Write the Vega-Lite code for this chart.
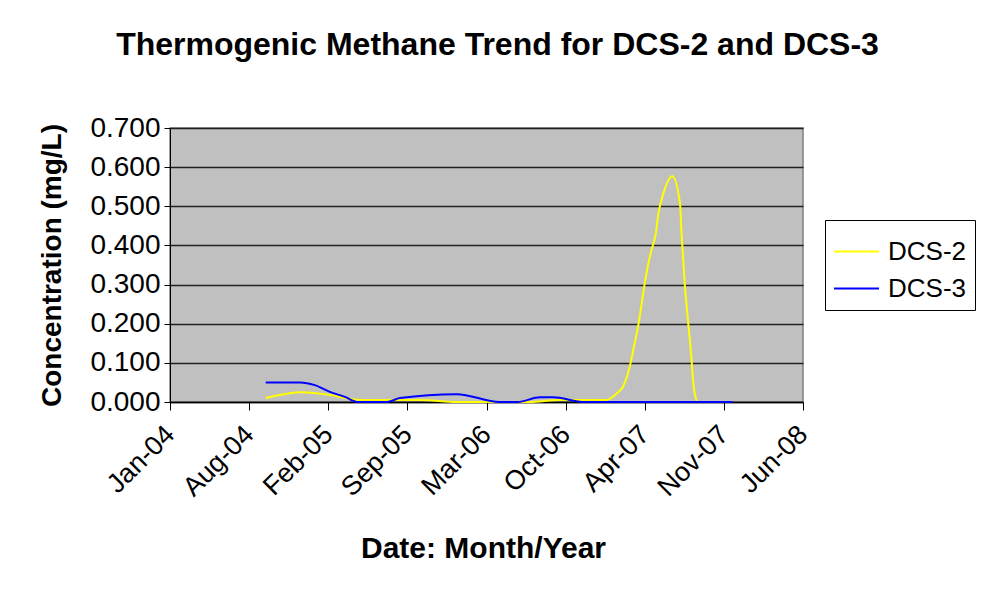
{
  "$schema": "https://vega.github.io/schema/vega-lite/v6.json",
  "autosize": "none",
  "width": 633,
  "height": 274,
  "padding": {"left": 170, "top": 128, "right": 184, "bottom": 190},
  "background": "white",
  "title": {
    "text": "Thermogenic Methane Trend for DCS-2 and DCS-3",
    "anchor": "middle",
    "dx": 11,
    "offset": 52,
    "font": "Liberation Sans",
    "fontSize": 32,
    "fontWeight": "bold",
    "color": "black"
  },
  "data": {
    "values": [
      {"date": "2004-09-13", "series": "DCS-2", "value": 0.010},
      {"date": "2004-12-13", "series": "DCS-2", "value": 0.025},
      {"date": "2005-02-22", "series": "DCS-2", "value": 0.018},
      {"date": "2005-05-09", "series": "DCS-2", "value": 0.005},
      {"date": "2005-10-08", "series": "DCS-2", "value": 0.005},
      {"date": "2006-01-09", "series": "DCS-2", "value": 0.000},
      {"date": "2006-07-12", "series": "DCS-2", "value": 0.000},
      {"date": "2006-09-26", "series": "DCS-2", "value": 0.005},
      {"date": "2007-01-21", "series": "DCS-2", "value": 0.005},
      {"date": "2007-02-17", "series": "DCS-2", "value": 0.022},
      {"date": "2007-03-05", "series": "DCS-2", "value": 0.039},
      {"date": "2007-03-22", "series": "DCS-2", "value": 0.090},
      {"date": "2007-03-31", "series": "DCS-2", "value": 0.133},
      {"date": "2007-04-12", "series": "DCS-2", "value": 0.192},
      {"date": "2007-04-29", "series": "DCS-2", "value": 0.303},
      {"date": "2007-05-08", "series": "DCS-2", "value": 0.354},
      {"date": "2007-05-16", "series": "DCS-2", "value": 0.388},
      {"date": "2007-05-27", "series": "DCS-2", "value": 0.431},
      {"date": "2007-06-02", "series": "DCS-2", "value": 0.478},
      {"date": "2007-06-15", "series": "DCS-2", "value": 0.533},
      {"date": "2007-07-08", "series": "DCS-2", "value": 0.577},
      {"date": "2007-07-27", "series": "DCS-2", "value": 0.508},
      {"date": "2007-07-31", "series": "DCS-2", "value": 0.431},
      {"date": "2007-08-08", "series": "DCS-2", "value": 0.303},
      {"date": "2007-08-17", "series": "DCS-2", "value": 0.201},
      {"date": "2007-08-26", "series": "DCS-2", "value": 0.099},
      {"date": "2007-08-29", "series": "DCS-2", "value": 0.056},
      {"date": "2007-09-08", "series": "DCS-2", "value": 0.000},
      {"date": "2004-09-13", "series": "DCS-3", "value": 0.050},
      {"date": "2004-12-09", "series": "DCS-3", "value": 0.050},
      {"date": "2005-01-15", "series": "DCS-3", "value": 0.043},
      {"date": "2005-02-22", "series": "DCS-3", "value": 0.026},
      {"date": "2005-04-01", "series": "DCS-3", "value": 0.013},
      {"date": "2005-05-04", "series": "DCS-3", "value": 0.000},
      {"date": "2005-07-16", "series": "DCS-3", "value": 0.000},
      {"date": "2005-08-18", "series": "DCS-3", "value": 0.010},
      {"date": "2006-01-09", "series": "DCS-3", "value": 0.020},
      {"date": "2006-04-27", "series": "DCS-3", "value": 0.000},
      {"date": "2006-06-12", "series": "DCS-3", "value": 0.000},
      {"date": "2006-08-07", "series": "DCS-3", "value": 0.012},
      {"date": "2006-09-09", "series": "DCS-3", "value": 0.012},
      {"date": "2006-11-28", "series": "DCS-3", "value": 0.000},
      {"date": "2007-12-07", "series": "DCS-3", "value": 0.000}
    ]
  },
  "mark": {"type": "line", "interpolate": "monotone", "strokeWidth": 2},
  "encoding": {
    "x": {
      "field": "date",
      "type": "temporal",
      "scale": {
        "type": "utc",
        "domain": [
          {"year": 2004, "month": 1, "date": 15, "utc": true},
          {"year": 2008, "month": 6, "date": 2, "utc": true}
        ],
        "nice": false
      },
      "axis": {
        "title": "Date: Month/Year",
        "values": [
          {"year": 2004, "month": 1, "date": 15, "utc": true},
          {"year": 2004, "month": 8, "date": 2, "utc": true},
          {"year": 2005, "month": 2, "date": 18, "utc": true},
          {"year": 2005, "month": 9, "date": 6, "utc": true},
          {"year": 2006, "month": 3, "date": 25, "utc": true},
          {"year": 2006, "month": 10, "date": 11, "utc": true},
          {"year": 2007, "month": 4, "date": 29, "utc": true},
          {"year": 2007, "month": 11, "date": 15, "utc": true},
          {"year": 2008, "month": 6, "date": 2, "utc": true}
        ],
        "labelExpr": "utcFormat(datum.value, '%b-%y')",
        "labelAngle": -45,
        "labelAlign": "right",
        "labelBaseline": "middle",
        "labelPadding": 20,
        "labelFont": "Liberation Sans",
        "labelFontSize": 27,
        "labelColor": "black",
        "labelOverlap": false,
        "labelFlush": false,
        "domainColor": "black",
        "domainWidth": 1.5,
        "tickColor": "black",
        "tickSize": 8,
        "grid": false,
        "titleFont": "Liberation Sans",
        "titleFontSize": 30,
        "titleFontWeight": "bold",
        "titleColor": "black",
        "titleX": 313,
        "titleY": 131,
        "titleBaseline": "top"
      }
    },
    "y": {
      "field": "value",
      "type": "quantitative",
      "scale": {"domain": [0, 0.7], "nice": false},
      "axis": {
        "title": "Concentration (mg/L)",
        "values": [0, 0.1, 0.2, 0.3, 0.4, 0.5, 0.6, 0.7],
        "format": ".3f",
        "labelFont": "Liberation Sans",
        "labelFontSize": 28,
        "labelColor": "black",
        "labelPadding": 4,
        "domainColor": "black",
        "tickColor": "black",
        "tickSize": 6,
        "grid": true,
        "gridColor": "#202020",
        "gridWidth": 1.5,
        "titleFont": "Liberation Sans",
        "titleFontSize": 28,
        "titleFontWeight": "bold",
        "titleColor": "black",
        "titleX": -118,
        "titleY": 137,
        "titleBaseline": "middle",
        "titleAlign": "center",
        "titleAngle": -90
      }
    },
    "color": {
      "field": "series",
      "type": "nominal",
      "scale": {"domain": ["DCS-2", "DCS-3"], "range": ["#FFFF00", "#0000FF"]},
      "legend": {
        "title": null,
        "orient": "none",
        "legendX": 655,
        "legendY": 92,
        "strokeColor": "black",
        "fillColor": "white",
        "padding": 8,
        "symbolType": "stroke",
        "symbolSize": 2025,
        "symbolStrokeWidth": 2,
        "labelFont": "Liberation Sans",
        "labelFontSize": 26,
        "labelColor": "black",
        "labelOffset": 8,
        "rowPadding": 0
      }
    }
  },
  "config": {
    "view": {"stroke": "#808080", "strokeWidth": 1.5, "fill": "#C0C0C0"}
  }
}
